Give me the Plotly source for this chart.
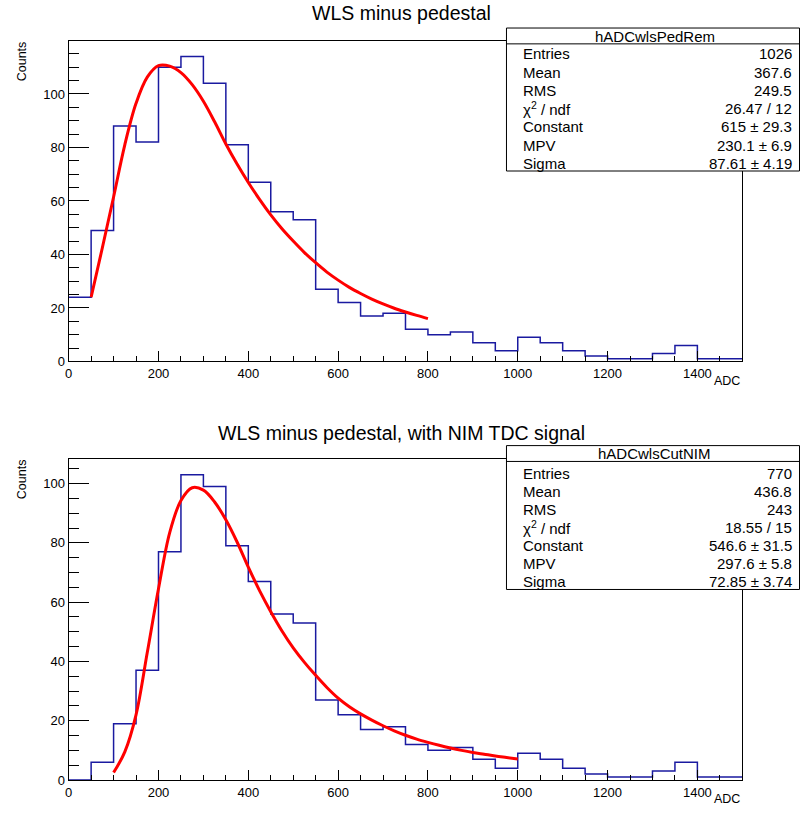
import plotly.graph_objects as go

W, H = 801, 818

# ---------------- data ----------------
bin_edges = list(range(0, 1550, 50))
counts_wls = [24, 49, 88, 82, 110, 114, 104, 81, 67, 56, 53, 27, 22, 17, 18,
              12, 10, 11, 7, 4, 9, 7, 4, 2, 1, 1, 3, 6, 1, 1]
counts_nim = [0, 6, 19, 37, 77, 103, 99, 79, 67, 56, 53, 27, 22, 17, 18,
              12, 10, 11, 7, 4, 9, 7, 4, 2, 1, 1, 3, 6, 1, 1]

fit_wls_x = [50, 75, 100, 125, 150, 175, 200, 225, 250, 275, 300, 325, 350, 375,
             400, 425, 450, 475, 500, 525, 550, 575, 600, 625, 650, 675, 700, 725,
             750, 775, 800]
fit_wls_y = [24, 42.5, 61.5, 81, 96.5, 106.3, 110.6, 110.4, 108, 103.5, 97.3, 89.6,
             81.3, 73.8, 66.9, 60.6, 54.8, 49.6, 45.0, 40.7, 36.9, 33.4, 30.4, 27.7,
             25.4, 23.3, 21.5, 19.9, 18.5, 17.2, 16.0]

fit_nim_x = [100, 125, 150, 175, 200, 225, 250, 275, 300, 325, 350, 375, 400, 425,
             450, 475, 500, 525, 550, 575, 600, 625, 650, 675, 700, 725, 750, 775,
             800, 825, 850, 875, 900, 925, 950, 975, 1000]
fit_nim_y = [2.5, 9.5, 22, 43, 64.5, 83.5, 94.3, 98.6, 97.8, 93.8, 87.8, 80.3, 71.8,
             63.9, 56.8, 50.3, 44.6, 39.7, 35.3, 31.2, 27.6, 24.7, 22.3, 20.2, 18.3,
             16.6, 15.1, 13.8, 12.7, 11.7, 10.8, 10.0, 9.3, 8.7, 8.1, 7.6, 7.1]

titles = ["WLS minus pedestal", "WLS minus pedestal, with NIM TDC signal"]
hist_names = ["hADCwlsPedRem", "hADCwlsCutNIM"]
stat_labels = ["Entries", "Mean", "RMS", "χ<sup>2</sup> / ndf", "Constant", "MPV", "Sigma"]
stats_wls = ["1026", "367.6", "249.5", "26.47 / 12", "615 ± 29.3", "230.1 ± 6.9", "87.61 ± 4.19"]
stats_nim = ["770", "436.8", "243", "18.55 / 15", "546.6 ± 31.5", "297.6 ± 5.8", "72.85 ± 3.74"]
x_title = "ADC"
y_title = "Counts"

# ---------------- style ----------------
FONT = "Liberation Sans, Arial, Helvetica, sans-serif"
HIST_COLOR = "#1a1aa0"
FIT_COLOR = "#ff0000"


def px(x):
    return x / W


def py(y):
    return 1 - y / H


fig = go.Figure()

# histograms as steps
for counts, xa, ya in [(counts_wls, "x", "y"), (counts_nim, "x2", "y2")]:
    fig.add_trace(go.Scatter(
        x=bin_edges, y=counts + [counts[-1]], mode="lines",
        line=dict(shape="hv", color=HIST_COLOR, width=1.5),
        xaxis=xa, yaxis=ya, showlegend=False, hoverinfo="skip"))

for fx, fy, xa, ya in [(fit_wls_x, fit_wls_y, "x", "y"), (fit_nim_x, fit_nim_y, "x2", "y2")]:
    fig.add_trace(go.Scatter(
        x=fx, y=fy, mode="lines",
        line=dict(shape="spline", smoothing=1.0, color=FIT_COLOR, width=3),
        xaxis=xa, yaxis=ya, showlegend=False, hoverinfo="skip"))

# panel geometry (pixels)
panels = [
    dict(top=41.7, bottom=365.0, ymax=119.7, title_y=13, box=(28.3, 44.3, 172.7),
         hdr_y=36.5, row0=54.3, drow=18.45, stats=stats_wls, name=hist_names[0],
         title=titles[0], counts_y=62, adc_y=385),
    dict(top=464.0, bottom=787.7, ymax=108.15, title_y=437, box=(450.0, 466.0, 595.3),
         hdr_y=458.3, row0=477.7, drow=18.2, stats=stats_nim, name=hist_names[1],
         title=titles[1], counts_y=484, adc_y=807),
]
X0, X1 = 65.0, 742.0
BOX_X0, BOX_X1 = 505.0, 799.5

axis_common = dict(showline=True, linecolor="black", linewidth=1.2, mirror=True,
                   ticks="inside", tickcolor="black", tickwidth=1, showgrid=False,
                   zeroline=False, tickfont=dict(family=FONT, size=13, color="black"))

layout = dict(width=W, height=H, margin=dict(l=0, r=0, t=0, b=0),
              paper_bgcolor="white", plot_bgcolor="white", showlegend=False)

shapes = []
annotations = []
for i, p in enumerate(panels):
    sx = "" if i == 0 else "2"
    layout["xaxis" + sx] = dict(axis_common, domain=[px(X0), px(X1)], anchor="y" + sx,
                                range=[0, 1500], tickmode="linear", tick0=0, dtick=200,
                                ticklen=10,
                                minor=dict(ticks="inside", ticklen=5, dtick=50, tick0=0,
                                           tickcolor="black", showgrid=False))
    layout["yaxis" + sx] = dict(axis_common, domain=[py(p["bottom"]), py(p["top"])],
                                anchor="x" + sx, range=[0, p["ymax"]], tickmode="linear",
                                tick0=0, dtick=20, ticklen=20,
                                minor=dict(ticks="inside", ticklen=10, dtick=5, tick0=0,
                                           tickcolor="black", showgrid=False))
    # title
    annotations.append(dict(text=p["title"], x=px(399), y=py(p["title_y"]), xref="paper",
                            yref="paper", xanchor="center", yanchor="middle",
                            showarrow=False, font=dict(family=FONT, size=19.5, color="black")))
    # axis titles
    annotations.append(dict(text=y_title, x=px(18), y=py(p["counts_y"]), xref="paper",
                            yref="paper", xanchor="center", yanchor="middle", textangle=-90,
                            showarrow=False, font=dict(family=FONT, size=12.5, color="black")))
    annotations.append(dict(text=x_title, x=px(742), y=py(p["adc_y"]), xref="paper",
                            yref="paper", xanchor="right", yanchor="middle",
                            showarrow=False, font=dict(family=FONT, size=12.5, color="black")))
    # stats box
    btop, bhdr, bbot = p["box"]
    shapes.append(dict(type="rect", xref="paper", yref="paper", x0=px(BOX_X0), x1=px(BOX_X1),
                       y0=py(bbot), y1=py(btop), line=dict(color="black", width=1),
                       fillcolor="white", layer="above"))
    shapes.append(dict(type="line", xref="paper", yref="paper", x0=px(BOX_X0), x1=px(BOX_X1),
                       y0=py(bhdr), y1=py(bhdr), line=dict(color="black", width=1),
                       layer="above"))
    annotations.append(dict(text=p["name"], x=px((BOX_X0 + BOX_X1) / 2 + 2), y=py(p["hdr_y"]),
                            xref="paper", yref="paper", xanchor="center", yanchor="middle",
                            showarrow=False, font=dict(family=FONT, size=15, color="black")))
    for k, (lab, val) in enumerate(zip(stat_labels, p["stats"])):
        yy = py(p["row0"] + k * p["drow"])
        annotations.append(dict(text=lab, x=px(520), y=yy, xref="paper", yref="paper",
                                xanchor="left", yanchor="middle", showarrow=False,
                                font=dict(family=FONT, size=15, color="black")))
        annotations.append(dict(text=val, x=px(794), y=yy, xref="paper", yref="paper",
                                xanchor="right", yanchor="middle", showarrow=False,
                                font=dict(family=FONT, size=15, color="black")))

layout["shapes"] = shapes
layout["annotations"] = annotations
fig.update_layout(**layout)

fig.write_html(
    "out.html",
    config={"displayModeBar": False},
    post_script="document.body.style.margin='0';document.body.style.padding='0';"
                "document.body.style.overflow='hidden';",
)
